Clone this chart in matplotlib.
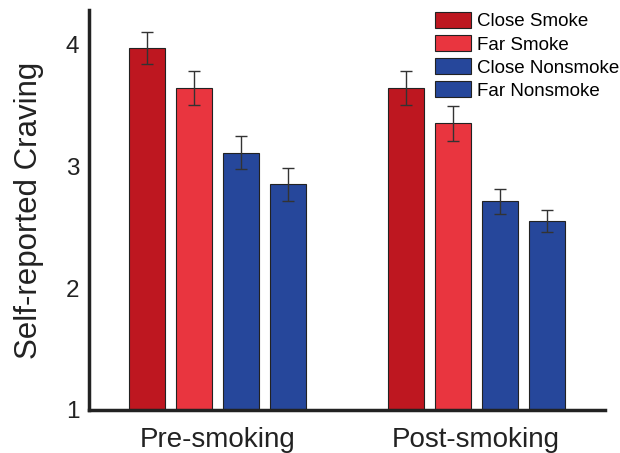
import numpy as np
import matplotlib
matplotlib.use("Agg")
import matplotlib.pyplot as plt

plt.rcParams['font.family'] = ['Liberation Sans', 'DejaVu Sans']

groups = ["Pre-smoking", "Post-smoking"]
conditions = ["Close Smoke", "Far Smoke", "Close Nonsmoke", "Far Nonsmoke"]
colors = ["#BE1720", "#E9353F", "#26479B", "#26479B"]

# mean craving per condition, one list per time point
pre_means = [3.97, 3.64, 3.11, 2.85]
post_means = [3.64, 3.35, 2.71, 2.55]
pre_err = [0.13, 0.14, 0.135, 0.135]
post_err = [0.14, 0.145, 0.105, 0.09]

group_pos = np.array([0.0, 5.5])
offsets = np.array([-1.5, -0.5, 0.5, 1.5])
width = 0.76

fig = plt.figure(figsize=(6.2, 4.53), dpi=100)
ax = fig.add_axes([0.1435, 0.095, 0.8325, 0.883])

means = np.array([pre_means, post_means])
errs = np.array([pre_err, post_err])
for i, cond in enumerate(conditions):
    x = group_pos + offsets[i]
    ax.bar(x, means[:, i], width, bottom=0, color=colors[i], edgecolor="#222222",
           linewidth=0.8, label=cond, zorder=2)
    ax.errorbar(x, means[:, i], yerr=errs[:, i], fmt="none", ecolor="#333333",
                elinewidth=1.0, capsize=4, capthick=1.0, zorder=3)

ax.set_ylim(1, 4.28)
ax.set_xlim(-2.73, 8.24)
ax.set_yticks([1, 2, 3, 4])
ax.set_xticks(group_pos)
ax.set_xticklabels(groups)
ax.tick_params(axis="y", length=0, labelsize=17.5, pad=7, colors="#222222")
ax.tick_params(axis="x", length=0, labelsize=20, pad=12, colors="#222222")
ax.set_ylabel("Self-reported Craving", fontsize=22.5, color="#222222", labelpad=16)

for side in ["top", "right"]:
    ax.spines[side].set_visible(False)
for side in ["left", "bottom"]:
    ax.spines[side].set_linewidth(2.5)
    ax.spines[side].set_color("#222222")

leg = ax.legend(loc="upper left", bbox_to_anchor=(0.6705, 0.995), frameon=False,
                fontsize=13.5, handlelength=1.92, handleheight=0.95,
                handletextpad=0.3, labelspacing=0.24, borderaxespad=0.0,
                borderpad=0.0)

fig.savefig("out.png", dpi=100)
